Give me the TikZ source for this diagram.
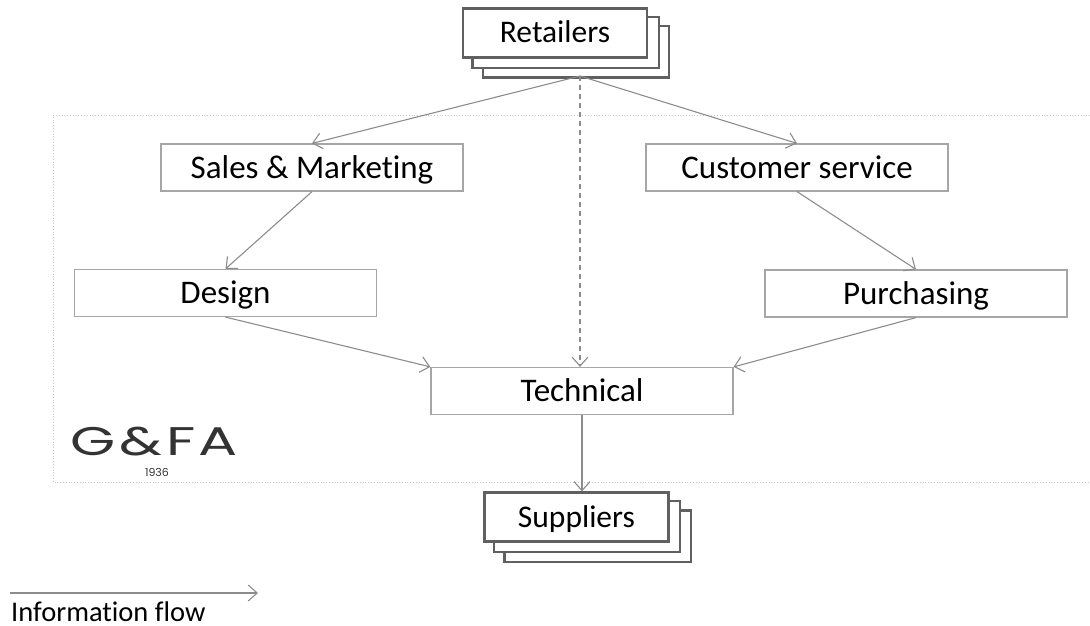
\documentclass[tikz,border=0pt]{standalone}
\usepackage{fontspec}
\setmainfont{Carlito}[Ligatures=NoCommon]
\newfontfamily\logofont{Poppins}
\usetikzlibrary{arrows.meta}
\definecolor{boxgray}{HTML}{A6A6A6}
\definecolor{stackgray}{HTML}{606060}
\definecolor{arrowgray}{HTML}{8C8C8C}
\definecolor{framegray}{HTML}{C8C8C8}
\definecolor{logogray}{HTML}{333333}
\tikzset{
  unit/.style={draw=boxgray, line width=1.2pt, fill=white, inner sep=0pt,
    minimum width=302pt, minimum height=47pt, font=\fontsize{33}{35}\selectfont,
    text height=21pt, text depth=0pt},
  stackbox/.style={draw=stackgray, line width=2.2pt, fill=white, inner sep=0pt,
    minimum width=184pt, minimum height=49pt, font=\fontsize{31.5}{33}\selectfont,
    text height=20pt, text depth=0pt},
  backbox/.style={draw=stackgray, line width=2.2pt, fill=white},
  flow/.style={draw=arrowgray, line width=1.1pt, -{Straight Barb[length=9pt,width=16pt]}},
  frame/.style={draw=framegray, line width=0.8pt, dotted},
}
\begin{document}
\begin{tikzpicture}[x=1pt,y=-1pt]
\useasboundingbox (0,0) rectangle (1090,626);
% frame
\draw[frame] (1090,115) -- (53,115) -- (53,482) -- (1090,482);
% logo
\node[anchor=base, inner sep=0pt, text=logogray, font=\logofont\fontsize{40}{40}\selectfont, xscale=1.45] (logo) at (154,455) {G\kern3pt\&\kern3pt F\kern2pt A};
\node[anchor=base, inner sep=0pt, text=logogray, font=\logofont\fontsize{11}{11}\selectfont] (year) at (157,476) {1936};
% retailers stack
\node[stackbox] (ret) at (555,33) {};
\draw[backbox] ([shift={(21,19)}]ret.south west) rectangle ([shift={(21,19)}]ret.north east);
\draw[backbox] ([shift={(10.5,9.5)}]ret.south west) rectangle ([shift={(10.5,9.5)}]ret.north east);
\node[stackbox] (retf) at (555,33) {Retailers};
% suppliers stack
\node[stackbox] (sup) at (576.5,517) {};
\draw[backbox] ([shift={(21,19)}]sup.south west) rectangle ([shift={(21,19)}]sup.north east);
\draw[backbox] ([shift={(10.5,9.5)}]sup.south west) rectangle ([shift={(10.5,9.5)}]sup.north east);
\node[stackbox] (supf) at (576.5,517) {Suppliers};
% units
\node[unit] (sm) at (312,167.5) {Sales \& Marketing};
\node[unit] (cs) at (797,167.5) {Customer service};
\node[unit] (des) at (225.5,293) {Design};
\node[unit] (pur) at (916,293.5) {Purchasing};
\node[unit] (tech) at (582,391) {Technical};
% connectors
\coordinate (rb) at (580,76);
\draw[flow] (rb) -- (sm.north);
\draw[flow] (rb) -- (cs.north);
\draw[flow, dash pattern=on 5pt off 4pt] (rb) -- (rb |- tech.north);
\draw[flow] (sm.south) -- (des.north);
\draw[flow] (cs.south) -- (pur.north);
\draw[flow] (des.south) -- (tech.north west);
\draw[flow] (pur.south) -- (tech.north east);
\draw[flow] (tech.south) -- (tech.south |- supf.north);
% legend
\coordinate (la) at (10,593);
\coordinate (lb) at (258,593);
\draw[flow] (la) -- (lb);
\node[anchor=base west, inner sep=0pt, font=\fontsize{28.5}{30}\selectfont] (legend) at (11,621) {Information flow};
\end{tikzpicture}
\end{document}
